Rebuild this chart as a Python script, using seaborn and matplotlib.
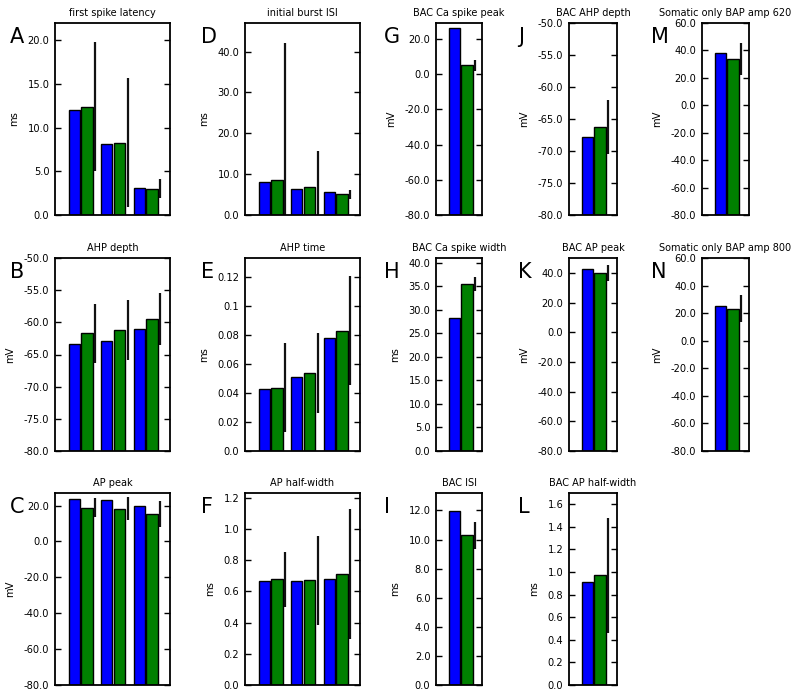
import numpy as np
import pandas as pd
import seaborn as sns
import matplotlib
matplotlib.use('Agg')
import matplotlib.pyplot as plt
from matplotlib.ticker import MultipleLocator, FuncFormatter

# panel data (blue = model, green = experiment mean, line = experiment sd)
letters = ['A', 'D', 'G', 'J', 'M',
           'B', 'E', 'H', 'K', 'N',
           'C', 'F', 'I', 'L']
titles = ['first spike latency', 'initial burst ISI', 'BAC Ca spike peak',
          'BAC AHP depth', 'Somatic only BAP amp 620',
          'AHP depth', 'AHP time', 'BAC Ca spike width', 'BAC AP peak',
          'Somatic only BAP amp 800',
          'AP peak', 'AP half-width', 'BAC ISI', 'BAC AP half-width']
units = ['ms', 'ms', 'mV', 'mV', 'mV',
         'mV', 'ms', 'ms', 'mV', 'mV',
         'mV', 'ms', 'ms', 'ms']
model_vals = [[12.0, 8.1, 3.1], [8.2, 6.45, 5.6], [26.3], [-67.8], [38.1],
              [-63.3, -62.9, -61.1], [0.043, 0.051, 0.0777], [28.2], [42.3], [25.2],
              [23.7, 23.2, 20.0], [0.666, 0.666, 0.677], [11.93], [0.91]]
expt_mean = [[12.4, 8.3, 3.0], [8.5, 6.9, 5.05], [4.9], [-66.3], [33.8],
             [-61.7, -61.2, -59.5], [0.0437, 0.0535, 0.083], [35.5], [40.0], [23.1],
             [18.9, 18.2, 15.1], [0.679, 0.673, 0.712], [10.3], [0.972]]
expt_sd = [[7.4, 7.4, 1.1], [33.5, 8.8, 1.1], [2.9], [4.2], [11.5],
           [4.6, 4.7, 4.0], [0.0305, 0.0276, 0.0373], [1.45], [5.4], [9.7],
           [5.3, 6.5, 7.3], [0.176, 0.286, 0.416], [0.92], [0.508]]

# axis ranges and tick steps
y_lims = [(0, 22), (0, 47), (-80, 29), (-80, -50), (-80, 60),
          (-80, -50), (0, 0.133), (0, 41), (-80, 50), (-80, 60),
          (-80, 27), (0, 1.232), (0, 13.2), (0, 1.7)]
y_steps = [5, 10, 20, 5, 20,
           5, 0.02, 5, 20, 20,
           20, 0.2, 2, 0.2]

# layout in pixels: (left, right, left edge of first blue bar), rows: (top, bottom)
cols = [(55, 170, 68), (245, 360, 258), (436, 482, 448), (569, 617, 581), (702, 749, 714)]
rows = [(23, 215), (258, 451), (493, 685)]
letter_off = [45, 44, 52, 51, 51]
W, H = 800, 696
px_per_unit = 32.5
bar_width, bar_gap = 0.78, 0.12
blue_edge = -bar_width / 2

sns.set_style('ticks')
plt.rcParams['font.family'] = ['DejaVu Sans']
plt.rcParams['axes.linewidth'] = 1.3
for key in ['text.color', 'axes.labelcolor', 'xtick.color', 'ytick.color', 'axes.edgecolor']:
    plt.rcParams[key] = 'black'

fig = plt.figure(figsize=(W / 100, H / 100), dpi=100)

for k in range(len(letters)):
    r, c = divmod(k, 5)
    left, right, blue_left = cols[c]
    top, bottom = rows[r]
    ax = fig.add_axes([left / W, 1 - bottom / H, (right - left) / W, (bottom - top) / H])

    n = len(model_vals[k])
    df = pd.DataFrame({
        'group': [str(i) for i in range(n)] * 2,
        'value': model_vals[k] + expt_mean[k],
        'source': ['model'] * n + ['experiment'] * n,
    })
    sns.barplot(data=df, x='group', y='value', hue='source',
                hue_order=['model', 'experiment'], palette=['#0000ff', '#008000'],
                saturation=1, edgecolor='black', linewidth=1,
                width=bar_width, gap=bar_gap, errorbar=None, legend=False, ax=ax)
    # bars rise from the bottom of the axis, not from zero
    ybot = y_lims[k][0]
    for p in ax.patches:
        h = p.get_height()
        p.set_y(ybot)
        p.set_height(h - ybot)

    ax.errorbar(np.arange(n) + 0.445, expt_mean[k], yerr=expt_sd[k], fmt='none',
                ecolor='#111111', elinewidth=1.6, capsize=0)

    x0 = blue_edge - (blue_left - left) / px_per_unit
    ax.set_xlim(x0, x0 + (right - left) / px_per_unit)
    ax.set_ylim(*y_lims[k])
    ax.yaxis.set_major_locator(MultipleLocator(y_steps[k]))
    ax.yaxis.set_major_formatter(FuncFormatter(lambda v, p: str(round(v, 6))))
    ax.tick_params(axis='y', direction='in', left=True, right=True, length=4,
                   width=1, labelsize=7.1, pad=4)
    ax.tick_params(axis='x', bottom=False, labelbottom=False)
    ax.set_xlabel('')
    ax.set_ylabel(units[k], fontsize=7.2, labelpad=6)
    ax.set_title(titles[k], fontsize=7, pad=5)
    for s in ax.spines.values():
        s.set_visible(True)
        s.set_color('black')

    fig.text((left - letter_off[c]) / W, 1 - (top + 20) / H, letters[k],
             fontsize=15, va='baseline', ha='left')

fig.savefig('out.png', dpi=100)
